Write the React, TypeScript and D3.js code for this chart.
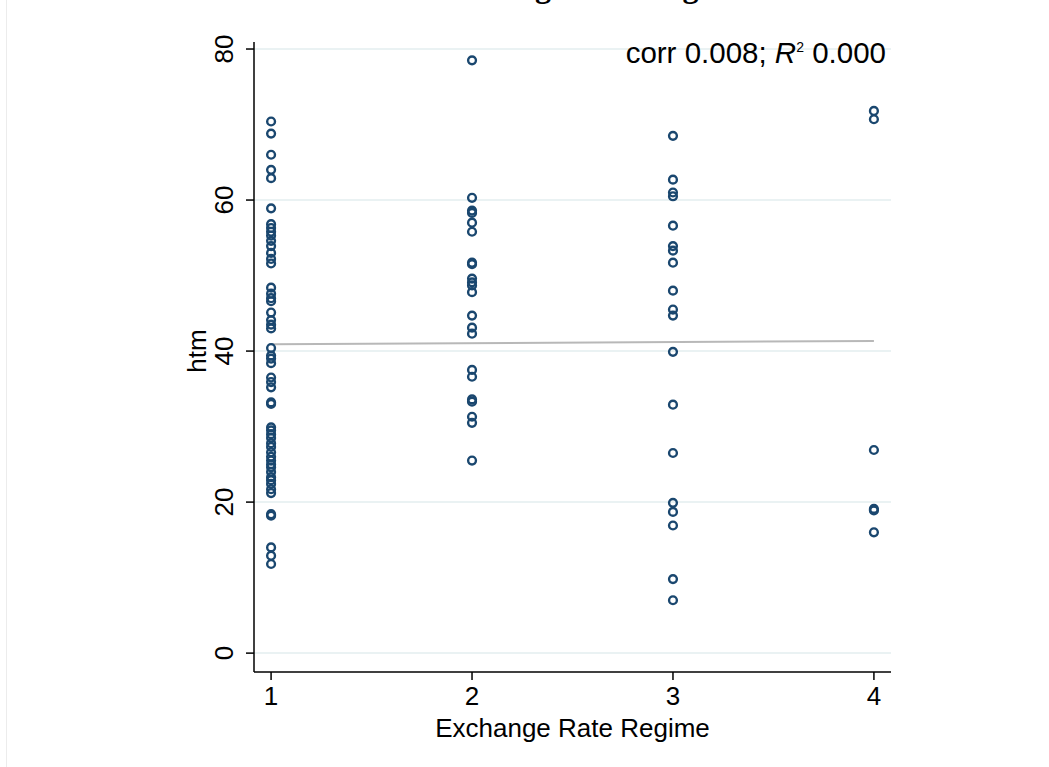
import React from 'react';
import * as d3 from 'd3';

// htm values by exchange rate regime (1-4)
const regime1 = [70.4, 68.8, 66.0, 64.0, 62.9, 58.9, 56.8, 56.3, 55.8, 55.3, 54.6, 53.9, 53.0, 52.2, 51.6,
  48.4, 47.6, 47.0, 46.6, 45.1, 44.1, 43.5, 43.0, 40.4, 39.4, 39.0, 38.4, 36.5, 35.9, 35.2, 33.2, 33.0,
  29.9, 29.5, 29.0, 28.5, 27.8, 27.3, 26.6, 26.0, 25.5, 25.0, 24.6, 24.0, 23.3, 22.9, 22.4, 21.7, 21.2,
  18.4, 18.2, 14.0, 12.9, 11.8];
const regime2 = [78.5, 60.3, 58.6, 58.3, 57.0, 55.8, 51.7, 51.5, 49.6, 49.1, 48.7, 47.8, 44.7, 43.1, 42.3,
  37.5, 36.6, 33.6, 33.3, 31.3, 30.5, 25.5];
const regime3 = [68.5, 62.7, 61.0, 60.5, 56.6, 53.9, 53.3, 51.7, 48.0, 45.5, 44.7, 39.9, 32.9, 26.5,
  19.9, 18.7, 16.9, 9.8, 7.0];
const regime4 = [71.8, 70.7, 26.9, 19.1, 18.9, 16.0];

const xTicks = [1, 2, 3, 4];
const yTicks = [0, 20, 40, 60, 80];

// fitted line
const fitX = [1, 4];
const fitY = [40.9, 41.35];

const navy = '#1a476f';
const grid = '#eaf2f3';

export default function App() {
  const x = d3.scaleLinear().domain([0.915, 4.085]).range([254, 891]);
  const y = d3.scaleLinear().domain([-2.5, 80.93]).range([672, 42]);
  const [x0, x1] = x.range();
  const [y0, y1] = y.range();

  const groups = [regime1, regime2, regime3, regime4];
  const points = groups.flatMap((vals, i) => vals.map(v => ({ r: xTicks[i], v })));

  const line = d3.line<number>().x((_, i) => x(fitX[i])).y(d => y(d));

  const font = 'Liberation Sans, Arial, Helvetica, sans-serif';

  return (
    <svg width={1049} height={767} style={{ position: 'absolute', left: 0, top: 0, background: '#fff' }}>
      <rect x={0} y={0} width={1049} height={767} fill="#fff" />
      <line x1={6.5} x2={6.5} y1={0} y2={767} stroke="#ececec" strokeWidth={1} />

      {/* title, mostly cut off at the top as in the original */}
      <text x={590} y={-3} textAnchor="middle" fontFamily="Liberation Serif, Times New Roman, serif"
        fontWeight="bold" fontSize={32} fill="#000">Exchange Rate Regime</text>

      {/* gridlines */}
      {yTicks.map(t => (
        <line key={t} x1={x0} x2={x1} y1={y(t)} y2={y(t)} stroke={grid} strokeWidth={2} />
      ))}

      {/* fitted line */}
      <path d={line(fitY) || ''} fill="none" stroke="#b8b8b8" strokeWidth={2} />

      {/* points */}
      {points.map((p, i) => (
        <circle key={i} cx={x(p.r)} cy={y(p.v)} r={3.9} fill="none" stroke={navy} strokeWidth={2.4} />
      ))}

      {/* y axis */}
      <line x1={x0} x2={x0} y1={y1} y2={y0} stroke="#000" strokeWidth={1.5} />
      {yTicks.map(t => (
        <g key={t}>
          <line x1={x0 - 8} x2={x0} y1={y(t)} y2={y(t)} stroke="#000" strokeWidth={1.5} />
          <text transform={`translate(${x0 - 30},${y(t)}) rotate(-90)`} textAnchor="middle"
            dy="0.36em" fontFamily={font} fontSize={26}>{t}</text>
        </g>
      ))}
      <text transform={`translate(197,${y(40)}) rotate(-90)`} textAnchor="middle" dy="0.36em"
        fontFamily={font} fontSize={26}>htm</text>

      {/* x axis */}
      <line x1={x0} x2={x1} y1={y0} y2={y0} stroke="#000" strokeWidth={1.5} />
      {xTicks.map(t => (
        <g key={t}>
          <line x1={x(t)} x2={x(t)} y1={y0} y2={y0 + 8} stroke="#000" strokeWidth={1.5} />
          <text x={x(t)} y={y0 + 33} textAnchor="middle" fontFamily={font} fontSize={26}>{t}</text>
        </g>
      ))}
      <text x={(x0 + x1) / 2} y={y0 + 65} textAnchor="middle" fontFamily={font} fontSize={26}>
        Exchange Rate Regime
      </text>

      {/* annotation */}
      <text x={886} y={63} textAnchor="end" fontFamily={font} fontSize={29.5}>
        corr 0.008; <tspan fontStyle="italic">R</tspan><tspan fontSize={14} dy={-11}>2</tspan>
        <tspan dy={11}> 0.000</tspan>
      </text>
    </svg>
  );
}
